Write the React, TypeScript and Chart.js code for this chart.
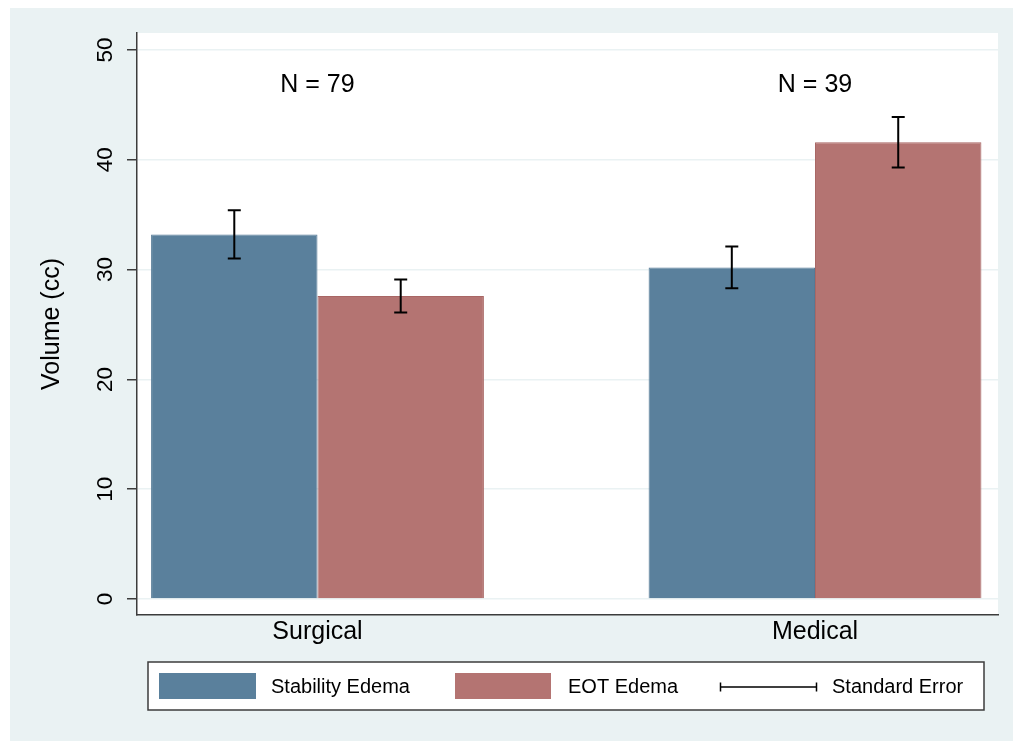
import React, { useEffect, useRef } from "react";
import { Chart, registerables } from "chart.js";

Chart.register(...registerables);

// ---- data ----
const categories = ["Surgical", "Medical"];
const seriesNames = ["Stability Edema", "EOT Edema"];
const stabilityMeans = [33.2, 30.2];
const stabilitySE = [2.2, 1.9];
const eotMeans = [27.6, 41.6];
const eotSE = [1.5, 2.3];
const groupN = [79, 39];
const yTicks = [0, 10, 20, 30, 40, 50];
const errorLegendLabel = "Standard Error";
const yTitle = "Volume (cc)";

// ---- styles ----
const FONT = "'Liberation Sans', Arial, Helvetica, sans-serif";
const BLUE = "#5a809c";
const BLUE_BORDER = "#557a96";
const RED = "#b47472";
const RED_BORDER = "#a86664";
const PANEL = "#eaf2f3";
const AXIS = "#3c3c3c";
const seByDataset = [stabilitySE, eotSE];

const decorPlugin = {
  id: "decor",
  beforeDraw(chart: any) {
    const { ctx, width, height, chartArea } = chart;
    ctx.save();
    ctx.fillStyle = "#ffffff";
    ctx.fillRect(0, 0, width, height);
    ctx.fillStyle = PANEL;
    ctx.fillRect(10, 8, width - 10, height - 8);
    ctx.fillStyle = "#ffffff";
    ctx.fillRect(
      chartArea.left,
      chartArea.top,
      chartArea.right - chartArea.left,
      chartArea.bottom - chartArea.top
    );
    ctx.restore();
  },
  afterDatasetsDraw(chart: any) {
    const { ctx } = chart;
    const yScale = chart.scales.y;
    ctx.save();
    ctx.strokeStyle = "#000000";
    ctx.lineWidth = 2;
    chart.data.datasets.forEach((ds: any, d: number) => {
      const meta = chart.getDatasetMeta(d);
      meta.data.forEach((el: any, i: number) => {
        const mean = ds.data[i].y;
        const se = seByDataset[d][i];
        const yTop = yScale.getPixelForValue(mean + se);
        const yBot = yScale.getPixelForValue(mean - se);
        const x = el.x;
        ctx.beginPath();
        ctx.moveTo(x, yTop);
        ctx.lineTo(x, yBot);
        ctx.moveTo(x - 6.5, yTop);
        ctx.lineTo(x + 6.5, yTop);
        ctx.moveTo(x - 6.5, yBot);
        ctx.lineTo(x + 6.5, yBot);
        ctx.stroke();
      });
    });
    ctx.restore();
  },
  afterDraw(chart: any) {
    const { ctx } = chart;
    const xScale = chart.scales.x;
    const yScale = chart.scales.y;
    ctx.save();
    // y tick labels (rotated)
    ctx.fillStyle = "#000000";
    ctx.font = `22.5px ${FONT}`;
    ctx.textAlign = "center";
    ctx.textBaseline = "middle";
    yTicks.forEach((v) => {
      const y = yScale.getPixelForValue(v);
      ctx.save();
      ctx.translate(106, y);
      ctx.rotate(-Math.PI / 2);
      ctx.fillText(String(v), 0, 0);
      ctx.restore();
    });
    // N labels
    ctx.font = `25px ${FONT}`;
    groupN.forEach((n, i) => {
      const x = xScale.getPixelForValue(i);
      const y = yScale.getPixelForValue(46.8);
      ctx.fillText(`N = ${n}`, x, y);
    });
    // legend
    const bx = 148, by = 662, bw = 836, bh = 48;
    ctx.fillStyle = "#ffffff";
    ctx.fillRect(bx, by, bw, bh);
    ctx.strokeStyle = AXIS;
    ctx.lineWidth = 1.5;
    ctx.strokeRect(bx, by, bw, bh);
    const cy = 687;
    ctx.fillStyle = BLUE;
    ctx.fillRect(159, 673, 97, 26);
    ctx.fillStyle = RED;
    ctx.fillRect(455, 673, 96, 26);
    ctx.strokeStyle = "#000000";
    ctx.lineWidth = 1.5;
    ctx.beginPath();
    ctx.moveTo(720, cy);
    ctx.lineTo(817, cy);
    ctx.moveTo(720.5, cy - 4.5);
    ctx.lineTo(720.5, cy + 4.5);
    ctx.moveTo(816.5, cy - 4.5);
    ctx.lineTo(816.5, cy + 4.5);
    ctx.stroke();
    ctx.fillStyle = "#000000";
    ctx.font = `20px ${FONT}`;
    ctx.textAlign = "left";
    ctx.fillText(seriesNames[0], 271, cy);
    ctx.fillText(seriesNames[1], 568, cy);
    ctx.fillText(errorLegendLabel, 832, cy);
    ctx.restore();
  },
};

export default function App() {
  const canvasRef = useRef<HTMLCanvasElement | null>(null);

  useEffect(() => {
    if (!canvasRef.current) return;
    const chart = new Chart(canvasRef.current, {
      type: "bar",
      data: {
        datasets: [
          {
            label: seriesNames[0],
            data: stabilityMeans.map((v, i) => ({ x: i, y: v })),
            backgroundColor: BLUE,
            borderColor: BLUE_BORDER,
            borderWidth: 1,
          },
          {
            label: seriesNames[1],
            data: eotMeans.map((v, i) => ({ x: i, y: v })),
            backgroundColor: RED,
            borderColor: RED_BORDER,
            borderWidth: 1,
          },
        ],
      },
      options: {
        animation: false,
        responsive: false,
        maintainAspectRatio: false,
        categoryPercentage: 0.669,
        barPercentage: 1,
        layout: { padding: { left: 0, top: 33, right: 15, bottom: 0 } },
        plugins: {
          legend: { display: false },
          tooltip: { enabled: false },
        },
        scales: {
          x: {
            type: "linear",
            min: -0.3628,
            max: 1.3678,
            offset: false,
            afterBuildTicks: (s: any) => {
              s.ticks = categories.map((_, i) => ({ value: i }));
            },
            afterFit: (s: any) => {
              s.height = 126;
            },
            ticks: {
              callback: (v: any) => categories[v] ?? "",
              font: { family: FONT, size: 25 },
              color: "#000000",
              padding: 2,
              maxRotation: 0,
              autoSkip: false,
            },
            grid: { display: false, drawTicks: false, offset: false },
            border: { display: true, color: AXIS, width: 1.5 },
          },
          y: {
            type: "linear",
            min: -1.46,
            max: 51.55,
            afterBuildTicks: (s: any) => {
              s.ticks = yTicks.map((v) => ({ value: v }));
            },
            afterFit: (s: any) => {
              s.width = 137;
            },
            ticks: { display: false },
            grid: {
              color: PANEL,
              lineWidth: 1.5,
              tickColor: AXIS,
              tickLength: 10,
              tickWidth: 1.5,
            },
            border: { display: true, color: AXIS, width: 1.5 },
            title: {
              display: true,
              text: yTitle,
              color: "#000000",
              font: { family: FONT, size: 25 },
              padding: { top: 37, bottom: 0 },
            },
          },
        },
      } as any,
      plugins: [decorPlugin],
    });
    return () => chart.destroy();
  }, []);

  return (
    <div style={{ position: "absolute", left: 0, top: 0, width: 1013, height: 741 }}>
      <canvas ref={canvasRef} width={1013} height={741} />
    </div>
  );
}
